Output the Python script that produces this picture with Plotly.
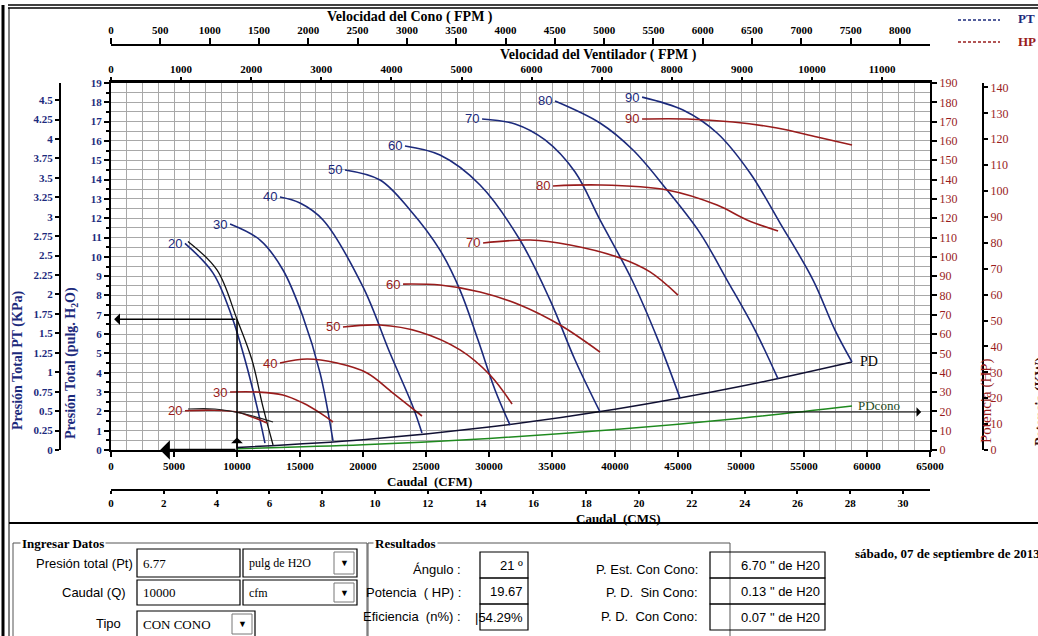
import plotly.graph_objects as go

# ---------------- data ----------------
Q_OP = 10000        # operating flow, cfm
PT_OP = 6.77        # operating total pressure, in H2O
HP_OP = 19.67       # operating power, HP

PT_LABELS = ["20", "30", "40", "50", "60", "70", "80", "90"]

pt20_q = [5870, 8100, 9600, 10640, 11590, 12220]
pt20_p = [10.70, 9.16, 6.89, 4.66, 2.23, 0.36]
pt20c_q = [6110, 8410, 10000, 11190, 12060, 12860]
pt20c_p = [10.80, 9.32, 6.77, 4.66, 2.23, 0.26]
pt30_q = [9450, 11830, 13650, 15240, 16590, 17620]
pt30_p = [11.70, 10.87, 9.32, 6.89, 3.99, 0.47]
pt40_q = [13410, 15000, 16830, 20000, 22140, 23970, 24680]
pt40_p = [13.10, 12.79, 11.91, 8.44, 5.02, 2.23, 0.88]
pt50_q = [18570, 21350, 23730, 26110, 27700, 29130, 30480, 31670]
pt50_p = [14.50, 13.98, 12.43, 10.35, 8.28, 5.69, 3.11, 1.29]
pt60_q = [23330, 26110, 29290, 32460, 34840, 36830, 38810]
pt60_p = [15.74, 15.27, 13.72, 10.87, 7.77, 4.66, 1.97]
pt70_q = [29450, 32070, 34450, 36830, 38810, 41350, 43420, 45160]
pt70_p = [17.14, 16.88, 16.05, 14.39, 11.91, 8.80, 5.69, 2.69]
pt80_q = [35240, 38810, 41430, 44130, 46750, 48890, 51110, 52940]
pt80_p = [18.07, 16.93, 15.53, 13.46, 11.23, 8.80, 6.21, 3.68]
pt90_q = [42150, 45400, 48100, 50720, 53100, 55720, 57460, 58810]
pt90_p = [18.27, 17.60, 16.41, 14.34, 11.75, 8.80, 6.21, 4.56]

HP_LABELS = ["20", "30", "40", "50", "60", "70", "80", "90"]

hp20_q = [5870, 8100, 10000, 11030, 12380]
hp20_v = [20.3, 20.6, 19.7, 17.5, 14.0]
hp20c_q = [6110, 8250, 10630, 12860]
hp20c_v = [21.2, 21.2, 18.6, 14.5]
hp30_q = [9450, 11590, 13650, 15240, 16590, 17620]
hp30_v = [30.0, 30.0, 28.5, 24.3, 19.2, 14.5]
hp40_q = [13410, 15560, 17940, 20320, 22380, 24680]
hp40_v = [45.0, 47.1, 45.0, 39.9, 29.5, 17.6]
hp50_q = [18410, 21350, 24520, 27700, 30080, 31830]
hp50_v = [63.7, 64.7, 61.1, 51.8, 38.8, 23.8]
hp60_q = [23180, 26110, 29290, 32460, 35640, 38810]
hp60_v = [85.9, 85.4, 81.8, 75.1, 64.7, 50.7]
hp70_q = [29530, 33260, 36430, 40400, 42780, 45000]
hp70_v = [107.2, 108.7, 106.1, 99.4, 92.2, 80.2]
hp80_q = [35080, 38810, 44130, 48100, 50480, 52940]
hp80_v = [136.7, 137.2, 134.6, 126.8, 119.1, 113.4]
hp90_q = [42150, 45720, 49370, 52860, 56040, 58810]
hp90_v = [171.4, 171.4, 169.8, 166.7, 162.0, 157.9]

pd_q = [10000, 20000, 30000, 40000, 50000, 58810]
pd_p = [0.13, 0.53, 1.19, 2.11, 3.30, 4.56]
pdc_q = [10000, 20000, 30000, 40000, 50000, 58810]
pdc_p = [0.07, 0.27, 0.60, 1.06, 1.65, 2.28]

KPA_TICKS = [0, 0.25, 0.5, 0.75, 1, 1.25, 1.5, 1.75, 2, 2.25, 2.5, 2.75,
             3, 3.25, 3.5, 3.75, 4, 4.25, 4.5]

form_labels = ["Presión total (Pt)", "Caudal (Q)", "Tipo"]
form_values = ["6.77", "10000", "CON CONO"]
form_units = ["pulg de H2O", "cfm"]
res_labels = ["Ángulo :", "Potencia  ( HP) :", "Eficiencia  (n%) :"]
res_values = ["21 º", "19.67", "|54.29%"]
res2_labels = ["P. Est. Con Cono:", "P. D.  Sin Cono:", "P. D.  Con Cono:"]
res2_values = ['6.70 " de H20', '0.13 " de H20', '0.07 " de H20']
DATE_TEXT = "sábado, 07 de septiembre de 2013"

# ---------------- layout helpers ----------------
W, H = 1038, 636
ML, MR, MT, MB = 60, 55, 45, 146
PW, PH = W - ML - MR, H - MT - MB


def px(x):
    return (x - ML) / PW


def py(y):
    return (H - MB - y) / PH


XD = [px(111), px(930)]
YD = [py(450), py(83)]

SERIF = "Liberation Serif"
SANS = "Liberation Sans"
NAVY = "#1c2a7c"
DRED = "#991c1c"
GREEN = "#1f8a1f"
GRID = "#a8a8a8"

fig = go.Figure()

pt_q = [pt20_q, pt30_q, pt40_q, pt50_q, pt60_q, pt70_q, pt80_q, pt90_q]
pt_p = [pt20_p, pt30_p, pt40_p, pt50_p, pt60_p, pt70_p, pt80_p, pt90_p]
hp_q = [hp20_q, hp30_q, hp40_q, hp50_q, hp60_q, hp70_q, hp80_q, hp90_q]
hp_v = [hp20_v, hp30_v, hp40_v, hp50_v, hp60_v, hp70_v, hp80_v, hp90_v]

# PD lines
fig.add_trace(go.Scatter(x=pdc_q, y=pdc_p, mode="lines", line=dict(color=GREEN, width=1.5, shape="spline"),
                         showlegend=False, hoverinfo="skip"))
fig.add_trace(go.Scatter(x=pd_q, y=pd_p, mode="lines", line=dict(color="#111133", width=1.5, shape="spline"),
                         showlegend=False, hoverinfo="skip"))

# HP curves (right axis)
for q, v in zip(hp_q, hp_v):
    fig.add_trace(go.Scatter(x=q, y=v, yaxis="y2", mode="lines",
                             line=dict(color=DRED, width=1.6, shape="spline", smoothing=1.0),
                             showlegend=False, hoverinfo="skip"))
fig.add_trace(go.Scatter(x=hp20c_q, y=hp20c_v, yaxis="y2", mode="lines",
                         line=dict(color="#222222", width=1.1, shape="spline"),
                         showlegend=False, hoverinfo="skip"))

# PT curves
for q, p in zip(pt_q, pt_p):
    fig.add_trace(go.Scatter(x=q, y=p, mode="lines",
                             line=dict(color=NAVY, width=1.6, shape="spline", smoothing=1.0),
                             showlegend=False, hoverinfo="skip"))
fig.add_trace(go.Scatter(x=pt20c_q, y=pt20c_p, mode="lines",
                         line=dict(color="#111111", width=1.3, shape="spline"),
                         showlegend=False, hoverinfo="skip"))

# dummy traces so the extra axes are drawn
for xa, ya in [("x2", "y"), ("x3", "y"), ("x4", "y"), ("x", "y3"), ("x", "y4")]:
    fig.add_trace(go.Scatter(x=[0], y=[0], xaxis=xa, yaxis=ya, mode="markers",
                             marker=dict(opacity=0), showlegend=False, hoverinfo="skip"))

annotations = []
shapes = []

# curve labels
for lab, q, p in zip(PT_LABELS, pt_q, pt_p):
    annotations.append(dict(x=q[0], y=p[0], xref="x", yref="y", text=lab, showarrow=False,
                            xanchor="right", yanchor="middle", xshift=-1,
                            font=dict(family=SANS, size=13, color=NAVY)))
for lab, q, v in zip(HP_LABELS, hp_q, hp_v):
    annotations.append(dict(x=q[0], y=v[0], xref="x", yref="y2", text=lab, showarrow=False,
                            xanchor="right", yanchor="middle", xshift=-1,
                            font=dict(family=SANS, size=13, color=DRED)))
annotations.append(dict(x=pd_q[-1], y=pd_p[-1], xref="x", yref="y", text="PD", showarrow=False,
                        xanchor="left", yanchor="middle", xshift=6,
                        font=dict(family=SERIF, size=14, color="black")))
annotations.append(dict(x=pdc_q[-1], y=pdc_p[-1], xref="x", yref="y", text="PDcono", showarrow=False,
                        xanchor="left", yanchor="middle", xshift=4,
                        font=dict(family=SERIF, size=13, color="#1e4a1e")))

# operating point guides
shapes.append(dict(type="line", xref="x", yref="y", x0=Q_OP, x1=Q_OP, y0=0, y1=PT_OP,
                   line=dict(color="black", width=1.5)))
annotations.append(dict(x=250, y=PT_OP, ax=Q_OP, ay=PT_OP, xref="x", yref="y", axref="x", ayref="y",
                        showarrow=True, arrowhead=1, arrowsize=1.3, arrowwidth=1.5, arrowcolor="black", text=""))
annotations.append(dict(x=Q_OP, y=0.65, ax=Q_OP, ay=0, xref="x", yref="y", axref="x", ayref="y",
                        showarrow=True, arrowhead=1, arrowsize=1.3, arrowwidth=1.5, arrowcolor="black", text=""))
annotations.append(dict(x=3900, y=0, ax=Q_OP, ay=0, xref="x", yref="y", axref="x", ayref="y",
                        showarrow=True, arrowhead=1, arrowsize=1.3, arrowwidth=2.5, arrowcolor="black", text=""))
annotations.append(dict(x=64300, y=HP_OP, ax=Q_OP, ay=HP_OP, xref="x", yref="y2", axref="x", ayref="y2",
                        showarrow=True, arrowhead=1, arrowsize=1.3, arrowwidth=1.2, arrowcolor="black", text=""))


def ptext(x, y, text, size=13, color="black", family=SERIF, xanchor="center", angle=0, bg=None):
    d = dict(x=px(x), y=py(y), xref="paper", yref="paper", text=text, showarrow=False,
             xanchor=xanchor, yanchor="middle", textangle=angle,
             font=dict(family=family, size=size, color=color))
    if bg:
        d["bgcolor"] = bg
    annotations.append(d)


# axis titles
ptext(410, 17, "<b>Velocidad del Cono ( FPM )</b>", 14)
ptext(598, 55, "<b>Velocidad del Ventilador ( FPM )</b>", 14)
ptext(429, 481, "<b>Caudal  (CFM)</b>", 13)
ptext(618, 518, "<b>Caudal  (CMS)</b>", 13)
ptext(18, 361, "<b>Presión Total PT (KPa)</b>", 14, NAVY, angle=-90)
ptext(71, 363, "<b>Presión Total (pulg. H<sub>2</sub>O)</b>", 14, NAVY, angle=-90)
ptext(986, 400, "Potencia (HP)", 15, DRED, angle=-90)
ptext(1041, 402, "<b>Potencia (KW)</b>", 14, "#3a1010", angle=-90)

# legend (top right)
shapes.append(dict(type="line", xref="paper", yref="paper", x0=px(958), x1=px(1000), y0=py(20), y1=py(20),
                   line=dict(color=NAVY, width=1.5, dash="3px,2px")))
shapes.append(dict(type="line", xref="paper", yref="paper", x0=px(958), x1=px(1000), y0=py(42), y1=py(42),
                   line=dict(color=DRED, width=1.5, dash="3px,2px")))
ptext(1016, 19, "<b>PT</b>", 13, NAVY, xanchor="left")
ptext(1016, 42, "<b>HP</b>", 13, DRED, xanchor="left")


def pline(x0, y0, x1, y1, color="black", width=1):
    shapes.append(dict(type="line", xref="paper", yref="paper", x0=px(x0), x1=px(x1), y0=py(y0), y1=py(y1),
                       line=dict(color=color, width=width)))


def prect(x0, y0, x1, y1, color="black", width=1, fill=None):
    shapes.append(dict(type="rect", xref="paper", yref="paper", x0=px(x0), x1=px(x1), y0=py(y0), y1=py(y1),
                       line=dict(color=color, width=width), fillcolor=fill if fill else "rgba(0,0,0,0)"))


# frame lines
pline(8, 5, 1038, 5, width=1.5)
pline(8, 8, 1038, 8, width=1.5)
pline(3, 5, 3, 640, width=3)
pline(9, 8, 9, 640, width=1)
pline(9, 523, 1038, 523, width=2)

# ---- input group ----
prect(13, 543, 367, 645, color="#555555", width=1)
ptext(20, 543, "<b>Ingresar Datos</b>", 13, "black", xanchor="left", bg="white")
row_y = [563, 592, 623]
lab_right = [135, 128, 123]
for lab, yy, xr in zip(form_labels, row_y, lab_right):
    annotations.append(dict(x=px(xr), y=py(yy), xref="paper", yref="paper", text=lab, showarrow=False,
                            xanchor="right", yanchor="middle", font=dict(family=SANS, size=13, color="black")))
box_rows = [(549, 577), (580, 605), (611, 640)]
for i, (val, (y0, y1)) in enumerate(zip(form_values, box_rows)):
    x1 = 240 if i < 2 else 255
    prect(137, y0, x1, y1, color="black", width=1.2)
    ptext(141, (y0 + y1) / 2 if i < 2 else 624, val, 13, "black", xanchor="left")
for unit, (y0, y1) in zip(form_units, box_rows[:2]):
    prect(243, y0, 357, y1, color="black", width=1.2)
    ptext(247, (y0 + y1) / 2, unit, 12, "black", xanchor="left")
    prect(334, y0 + 3, 354, y1 - 3, color="#777777", width=1)
    ptext(344, (y0 + y1) / 2, "▼", 9, "black")
prect(232, 614, 252, 634, color="#777777", width=1)
ptext(242, 624, "▼", 9, "black")

# ---- results group ----
prect(368, 543, 730, 645, color="#555555", width=1)
ptext(373, 543, "<b>Resultados</b>", 13, "black", xanchor="left", bg="white")
res_rows = [(552, 578), (578, 604), (604, 630)]
lab_y = [569, 592, 616]
for lab, yy in zip(res_labels, lab_y):
    annotations.append(dict(x=px(463), y=py(yy), xref="paper", yref="paper", text=lab, showarrow=False,
                            xanchor="right", yanchor="middle", font=dict(family=SANS, size=13, color="black")))
for val, (y0, y1) in zip(res_values, res_rows):
    prect(480, y0, 528, y1, color="black", width=1.2)
    annotations.append(dict(x=px(525), y=py((y0 + y1) / 2), xref="paper", yref="paper", text=val,
                            showarrow=False, xanchor="right", yanchor="middle",
                            font=dict(family=SANS, size=13, color="black")))
for lab, yy in zip(res2_labels, lab_y):
    annotations.append(dict(x=px(700), y=py(yy), xref="paper", yref="paper", text=lab, showarrow=False,
                            xanchor="right", yanchor="middle", font=dict(family=SANS, size=13, color="black")))
for val, (y0, y1) in zip(res2_values, res_rows):
    prect(710, y0, 825, y1, color="black", width=1.2)
    annotations.append(dict(x=px(822), y=py((y0 + y1) / 2), xref="paper", yref="paper", text=val,
                            showarrow=False, xanchor="right", yanchor="middle",
                            font=dict(family=SANS, size=13, color="black")))
ptext(853, 553, "<b>" + DATE_TEXT + "</b>", 13, "black", xanchor="left")

tick_serif = dict(family=SERIF, size=11, color="black", weight="bold")

fig.update_layout(
    width=W, height=H,
    margin=dict(l=ML, r=MR, t=MT, b=MB, pad=0),
    paper_bgcolor="white", plot_bgcolor="rgba(0,0,0,0)",
    showlegend=False,
    xaxis=dict(domain=XD, range=[0, 65000], anchor="y", tick0=0, dtick=5000, tickformat="d",
               ticks="outside", ticklen=5, tickcolor="black", tickwidth=1.5,
               showline=True, linecolor="black", linewidth=2,
               showgrid=True, gridcolor=GRID, gridwidth=1, zeroline=False,
               minor=dict(dtick=1250, showgrid=True, gridcolor=GRID, gridwidth=1),
               tickfont=tick_serif, fixedrange=True),
    xaxis2=dict(overlaying="x", side="top", anchor="y", range=[0, 11683], tick0=0, dtick=1000, tickformat="d",
                ticks="outside", ticklen=3, tickcolor="black", tickwidth=1.5,
                showline=True, linecolor="black", linewidth=2.5, showgrid=False, zeroline=False,
                tickfont=tick_serif),
    xaxis3=dict(overlaying="x", side="top", anchor="free", position=1, range=[0, 8304], tick0=0, dtick=500,
                tickformat="d",
                ticks="outside", ticklen=6, tickcolor="black", tickwidth=1.5,
                showline=True, linecolor="black", linewidth=2, showgrid=False, zeroline=False,
                tickfont=tick_serif),
    xaxis4=dict(overlaying="x", side="bottom", anchor="free", position=0, range=[0, 31.02], tick0=0, dtick=2,
                tickformat="d",
                ticks="outside", ticklen=3, tickcolor="black", tickwidth=1.5,
                showline=True, linecolor="black", linewidth=2, showgrid=False, zeroline=False,
                tickfont=tick_serif),
    yaxis=dict(domain=YD, range=[0, 19], anchor="x", tick0=0, dtick=1,
               ticks="outside", ticklen=5, tickcolor="black", tickwidth=1.5,
               showline=True, linecolor="black", linewidth=2,
               showgrid=True, gridcolor=GRID, gridwidth=1, zeroline=False,
               minor=dict(dtick=0.5, showgrid=True, gridcolor=GRID, gridwidth=1, ticks="outside", ticklen=3),
               tickfont=dict(family=SERIF, size=11, color=NAVY, weight="bold"), fixedrange=True),
    yaxis2=dict(overlaying="y", side="right", anchor="x", range=[0, 190], tick0=0, dtick=10,
                ticks="outside", ticklen=5, tickcolor="black", tickwidth=1.5,
                showline=True, linecolor="black", linewidth=2, showgrid=False, zeroline=False,
                tickfont=dict(family=SERIF, size=12, color=DRED)),
    yaxis3=dict(overlaying="y", side="left", anchor="free", position=0, range=[0, 4.72],
                tickvals=KPA_TICKS, ticktext=[f"{v:g}" for v in KPA_TICKS],
                ticks="outside", ticklen=4, tickcolor="black", tickwidth=1.5,
                showline=True, linecolor="black", linewidth=2, showgrid=False, zeroline=False,
                tickfont=dict(family=SERIF, size=11, color=NAVY, weight="bold")),
    yaxis4=dict(overlaying="y", side="right", anchor="free", position=1, range=[0, 141.7], tick0=0, dtick=10,
                ticks="outside", ticklen=4, tickcolor="black", tickwidth=1.5,
                showline=True, linecolor="black", linewidth=2, showgrid=False, zeroline=False,
                tickfont=dict(family=SERIF, size=12, color=DRED)),
    annotations=annotations,
    shapes=shapes,
)

fig.write_html("out.html", config={"displayModeBar": False},
               post_script="document.body.style.margin='0px';document.body.style.overflow='hidden';")
